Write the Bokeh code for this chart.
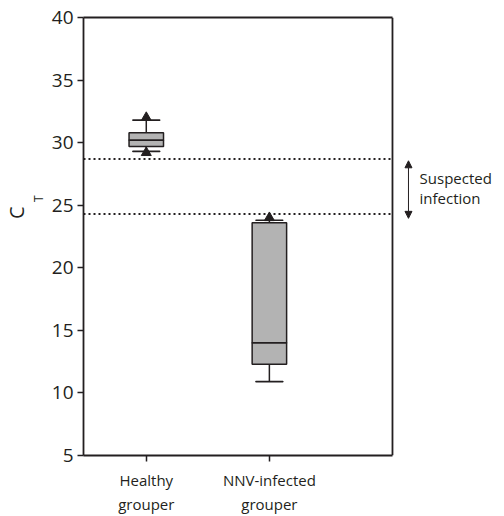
from bokeh.plotting import figure
from bokeh.models import (Range1d, Span, Label, Arrow, NormalHead, ColumnDataSource,
                          LinearAxis, FixedTicker, Title)
from bokeh.embed import file_html
from bokeh.resources import INLINE

groups = ["Healthy\ngrouper", "NNV-infected\ngrouper"]
group_pos = [1, 2]
q1 = [29.7, 12.3]
q2 = [30.2, 14.0]
q3 = [30.8, 23.6]
lower = [29.3, 10.9]
upper = [31.8, 23.8]
out_pos = [1, 1, 2]
out_y = [32.0, 29.2, 24.0]
thresholds = [28.7, 24.3]
y_ticks = [5, 10, 15, 20, 25, 30, 35, 40]

FONT = "Open Sans"
INK = "#231f20"
X0, X1 = 0.49, 3.0   # boxed plot area (x)
Y0, Y1 = 5, 40

p = figure(width=504, height=516, output_backend="svg", toolbar_location=None,
           x_range=Range1d(X0, 3.91),
           y_range=Range1d(Y0, Y1),
           min_border_left=83, min_border_right=0, min_border_top=17, min_border_bottom=57)
p.outline_line_color = None
p.grid.visible = False
p.background_fill_color = "white"
p.border_fill_color = "white"

src = ColumnDataSource(dict(x=group_pos, q1=q1, q2=q2, q3=q3, lo=lower, hi=upper))

# whiskers
p.segment(x0="x", y0="q3", x1="x", y1="hi", source=src, line_color=INK, line_width=1.5)
p.segment(x0="x", y0="q1", x1="x", y1="lo", source=src, line_color=INK, line_width=1.5)
p.rect(x="x", y="hi", width=0.22, height=0.01, source=src, line_color=INK, line_width=1.5, fill_color=None)
p.rect(x="x", y="lo", width=0.22, height=0.01, source=src, line_color=INK, line_width=1.5, fill_color=None)
# boxes
p.vbar(x="x", top="q3", bottom="q1", width=0.28, source=src, fill_color="#b3b3b3", line_color=INK, line_width=1.5)
p.rect(x="x", y="q2", width=0.28, height=0.01, source=src, line_color=INK, line_width=1.5, fill_color=None)
# outliers
p.scatter(x=out_pos, y=out_y, marker="triangle", size=10, fill_color=INK, line_color=INK)

# threshold lines
p.segment(x0=[X0] * len(thresholds), y0=thresholds, x1=[X1] * len(thresholds), y1=thresholds,
          line_color=INK, line_width=2, line_dash="2 3")

# right border of the box
p.add_layout(Span(location=X1, dimension="height", line_color=INK, line_width=1.8))

# annotation on the right
p.add_layout(Arrow(x_start=3.13, y_start=thresholds[0] - 0.15, x_end=3.13, y_end=thresholds[1] - 0.35,
                   line_color=INK, line_width=1,
                   start=NormalHead(size=7, fill_color=INK, line_color=INK),
                   end=NormalHead(size=7, fill_color=INK, line_color=INK)))
p.add_layout(Label(x=3.22, y=27.2, text="Suspected", text_font=FONT, text_font_size="15px",
                   text_color=INK, text_baseline="middle"))
p.add_layout(Label(x=3.22, y=25.55, text="infection", text_font=FONT, text_font_size="15px",
                   text_color=INK, text_baseline="middle"))

# main y axis
ya = p.yaxis[0]
ya.ticker = y_ticks
ya.minor_tick_line_color = None
ya.major_tick_out = 6
ya.major_tick_in = 0
ya.major_label_standoff = 4
ya.major_label_text_font = FONT
ya.major_label_text_font_size = "19px"
ya.major_label_text_color = INK
ya.axis_line_color = INK
ya.axis_line_width = 1.8
ya.major_tick_line_color = INK
ya.major_tick_line_width = 1.5

# y-axis title: C with subscript T
p.add_layout(Title(text="T", align="right", offset=178, standoff=0, vertical_align="top",
                   text_font=FONT, text_font_size="12px", text_font_style="normal",
                   text_color=INK), "left")
p.add_layout(Title(text="C", align="right", offset=189, standoff=0, vertical_align="bottom",
                   text_font=FONT, text_font_size="20px", text_font_style="normal",
                   text_color=INK), "left")

# bottom axis
xa = p.xaxis[0]
xa.ticker = group_pos
xa.bounds = (X0, X1)
xa.major_label_overrides = {pos: g for pos, g in zip(group_pos, groups)}
xa.minor_tick_line_color = None
xa.major_tick_out = 6
xa.major_tick_in = 0
xa.major_label_text_font = FONT
xa.major_label_text_font_size = "15px"
xa.major_label_text_color = INK
xa.axis_line_color = INK
xa.axis_line_width = 1.8
xa.major_tick_line_color = INK
xa.major_tick_line_width = 1.5
xa.major_label_standoff = 8

# top border of the box
top = LinearAxis(ticker=FixedTicker(ticks=[]), bounds=(X0, X1), axis_line_color=INK, axis_line_width=1.8,
                 major_tick_out=0, major_tick_in=0, major_label_standoff=0,
                 minor_tick_line_color=None, major_tick_line_color=None)
p.add_layout(top, "above")

open("out.html", "w").write(file_html(p, INLINE))
